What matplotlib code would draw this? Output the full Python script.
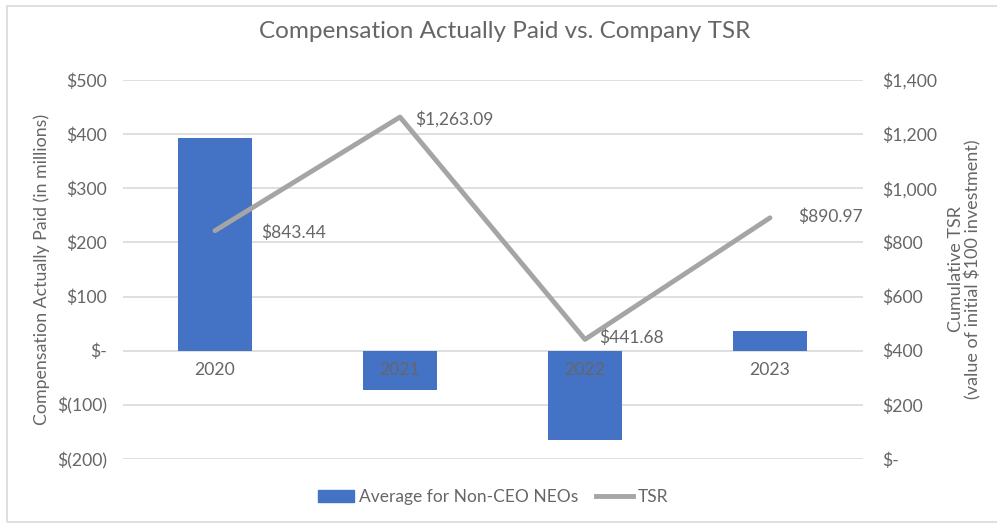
import matplotlib
matplotlib.use("Agg")
import matplotlib.pyplot as plt
from matplotlib.patches import Rectangle, Patch
from matplotlib.lines import Line2D
from matplotlib.ticker import FuncFormatter

years = ["2020", "2021", "2022", "2023"]
cap_avg = [393, -72, -164, 37]          # $ millions, Average for Non-CEO NEOs
tsr = [843.44, 1263.09, 441.68, 890.97]  # cumulative TSR
tsr_labels = ["$843.44", "$1,263.09", "$441.68", "$890.97"]

BLUE = "#4472C4"
GRAY = "#A5A5A5"
TXT = "#666666"
GRID = "#D9D9D9"

plt.rcParams["font.family"] = ["Lato", "DejaVu Sans"]

fig = plt.figure(figsize=(9.97, 5.23), dpi=100)
ax = fig.add_axes([122.5 / 997, 1 - 459 / 523, 740 / 997, 379 / 523])
ax2 = ax.twinx()

x = list(range(len(years)))
ax.bar(x, cap_avg, width=0.4, color=BLUE, zorder=2)
ax.set_xlim(-0.5, 3.5)
ax.set_ylim(-200, 500)
ax.set_yticks(range(-200, 501, 100))


def money(v, pos=None):
    if v == 0:
        return "$-"
    if v < 0:
        return "$({:,.0f})".format(-v)
    return "${:,.0f}".format(v)


ax.yaxis.set_major_formatter(FuncFormatter(money))
ax.grid(axis="y", color=GRID, linewidth=1.2)
ax.set_axisbelow(True)
ax.set_xticks([])
ax.tick_params(axis="y", length=0, pad=11, labelsize=12.7, labelcolor=TXT)
for s in ax.spines.values():
    s.set_visible(False)
ax.set_ylabel("Compensation Actually Paid (in millions)", color=TXT, fontsize=12.8, labelpad=5)

# category labels sit just under the zero line
for i, yr in enumerate(years):
    ax.annotate(yr, (i, 0), xytext=(0, -8), textcoords="offset points",
                ha="center", va="top", color=TXT, fontsize=12.7, zorder=5)

ax2.plot(x, tsr, color=GRAY, linewidth=3.5, solid_capstyle="round", zorder=3)
ax2.set_ylim(0, 1400)
ax2.set_yticks(range(0, 1401, 200))
ax2.yaxis.set_major_formatter(FuncFormatter(money))
ax2.tick_params(axis="y", length=0, pad=14, labelsize=12.7, labelcolor=TXT)
for s in ax2.spines.values():
    s.set_visible(False)
ax2.set_ylabel("Cumulative TSR\n(value of initial $100 investment)", color=TXT,
               fontsize=13, labelpad=8, linespacing=1.05)

offsets = [(46, -2), (15, -2), (14, 2), (28, 1)]
for i, (v, lab) in enumerate(zip(tsr, tsr_labels)):
    ax2.annotate(lab, (i, v), xytext=offsets[i], textcoords="offset pixels",
                 ha="left", va="center", color=TXT, fontsize=12.5)

fig.suptitle("Compensation Actually Paid vs. Company TSR", x=505 / 997, y=1 - 32 / 523,
             va="center", color=TXT, fontsize=17.5)

handles = [Patch(color=BLUE), Line2D([], [], color=GRAY, linewidth=3.5)]
fig.legend(handles, ["Average for Non-CEO NEOs", "TSR"], loc="center",
           bbox_to_anchor=(493 / 997, 1 - 497 / 523), ncol=2, frameon=False,
           fontsize=12.5, labelcolor=TXT, handlelength=2.1, handletextpad=0.3,
           columnspacing=1.0)

fig.patches.append(Rectangle((7 / 997, 1 / 523), 1.2, 1 - 7 / 523, transform=fig.transFigure,
                             fill=False, edgecolor=GRID, linewidth=1.2))

fig.savefig("out.png", dpi=100, facecolor="white")
